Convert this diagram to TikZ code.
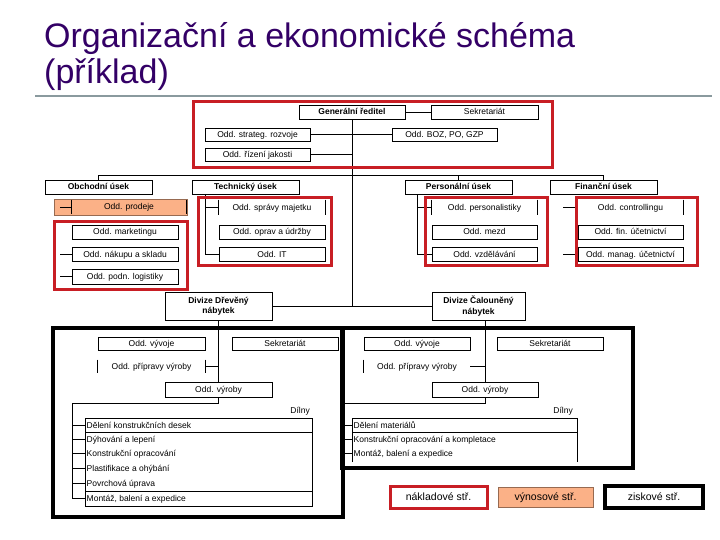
\documentclass[tikz,border=0pt]{standalone}
\usepackage{fontspec}
\setmainfont{Liberation Sans}
\usetikzlibrary{calc}
\definecolor{titlecol}{HTML}{330066}
\definecolor{redfr}{HTML}{C81E24}
\definecolor{orfill}{HTML}{FBB187}
\definecolor{rulecol}{HTML}{8A9A9E}
\tikzset{
 box/.style={draw, line width=0.7pt, fill=white, inner sep=0pt, font=\fontsize{8.5}{10}\selectfont, align=center, text height=7pt, text depth=1pt},
 divbox/.style={draw, line width=0.7pt, fill=white, inner sep=0pt, font=\fontsize{8.5}{10.5}\selectfont\bfseries, align=center},
 bbox/.style={font=\fontsize{8.5}{10}\selectfont\bfseries},
 bars/.style={draw=none, fill=none},
 wrow/.style={inner xsep=1.5pt, inner ysep=0pt, anchor=west, font=\fontsize{8.5}{10}\selectfont, minimum height=14pt, text height=7pt, text depth=1pt},
 conn/.style={line width=0.7pt},
 redframe/.style={draw=redfr, line width=3pt},
 profit/.style={draw=black, line width=3.5pt},
 lgtext/.style={font=\fontsize{10.5}{12}\selectfont, text height=8.5pt, text depth=1.5pt},
 ttl/.style={anchor=base west, text=titlecol, font=\fontsize{34}{38}\selectfont, inner sep=0pt},
}
\newcommand{\bx}[7][]{%
 \pgfmathsetmacro\bxX{(#3+#5)/2}\pgfmathsetmacro\bxY{(#4+#6)/2}%
 \pgfmathsetmacro\bxW{#5-#3}\pgfmathsetmacro\bxH{#6-#4}%
 \node[box,#1,minimum width=\bxW pt,minimum height=\bxH pt] (#2) at (\bxX,\bxY) {#7};}
\newcommand{\sidebars}[1]{\draw[conn] (#1.north west) -- (#1.south west) (#1.north east) -- (#1.south east);}
\begin{document}
\begin{tikzpicture}[x=1pt,y=-1pt]
\useasboundingbox (0,0) rectangle (720,540);
% title
\node[ttl] (t1) at (44,48) {Organizační a ekonomické schéma};
\node[ttl] (t2) at (44,84) {(příklad)};
\draw[rulecol, line width=1.2pt] (35,96) -- (712,96);
% profit frames
\draw[profit] (53,328) rectangle (343,517);
\draw[profit] (342,328) rectangle (633,468);
% top
\bx[bbox]{gr}{299}{105}{405}{119}{Generální ředitel}
\bx{sek}{431}{105}{538}{119}{Sekretariát}
\bx{str}{205}{128}{310}{141}{Odd. strateg. rozvoje}
\bx{boz}{392}{128}{497}{141}{Odd. BOZ, PO, GZP}
\bx{jak}{205}{148}{310}{161}{Odd. řízení jakosti}
% sections
\bx[bbox]{ob}{45}{180}{152}{194}{Obchodní úsek}
\bx[bbox]{te}{192}{180}{299}{194}{Technický úsek}
\bx[bbox]{pe}{405}{180}{512}{194}{Personální úsek}
\bx[bbox]{fi}{550}{180}{657}{194}{Finanční úsek}
% divisions
\node[divbox, minimum width=107pt, minimum height=28pt] (dr) at (218.5,306) {Divize Dřevěný\\nábytek};
\node[divbox, minimum width=93pt, minimum height=28pt] (ca) at (478.5,306) {Divize Čalouněný\\nábytek};
% trunk connectors
\draw[conn] (gr.south) -- (gr.south |- dr.east);
\draw[conn] (dr.east) -- (ca.west);
\draw[conn] (gr.east) -- (sek.west);
\draw[conn] (str.east) -- (str.east -| gr.south);
\draw[conn] (boz.west) -- (boz.west -| gr.south);
\draw[conn] (jak.east) -- (jak.east -| gr.south);
\coordinate (busL) at (98.5,175);
\draw[conn] (ob.north) -- (ob.north |- busL) -- (fi.north |- busL) -- (fi.north);
\draw[conn] (pe.north) -- (pe.north |- busL);
% Obchodni
\filldraw[fill=orfill, draw=orfill!60!black, line width=0.4pt] (54,199) rectangle (187,215);
\bx[bars]{prod}{72}{200}{186}{214}{Odd. prodeje}
\sidebars{prod}
\bx{mark}{72}{225}{178}{239}{Odd. marketingu}
\bx{nak}{72}{247}{178}{261}{Odd. nákupu a skladu}
\bx{log}{72}{269}{178}{284}{Odd. podn. logistiky}
\draw[conn] (prod.west) -- ++(-12,0);
\draw[conn] (nak.west) -- ++(-12,0);
\draw[conn] (log.west) -- ++(-12,0);
% Technicky
\bx[bars]{spr}{219}{200}{325}{215}{Odd. správy majetku}
\sidebars{spr}
\bx{opr}{219}{225}{325}{239}{Odd. oprav a údržby}
\bx{it}{219}{247}{325}{261}{Odd. IT}
\draw[conn] ($(te.south west)+(14,0)$) |- (it.west);
\draw[conn] ($(te.south west)+(14,0)$) |- (spr.west);
% Personalni
\bx[bars]{pers}{432}{200}{537}{215}{Odd. personalistiky}
\sidebars{pers}
\bx{mez}{432}{225}{537}{239}{Odd. mezd}
\bx{vzd}{432}{247}{537}{261}{Odd. vzdělávání}
\draw[conn] ($(pe.south west)+(13,0)$) |- (vzd.west);
\draw[conn] ($(pe.south west)+(13,0)$) |- (pers.west);
% Financni
\bx[bars]{ctrl}{578}{200}{683}{215}{Odd. controllingu}
\sidebars{ctrl}
\bx{uc}{578}{225}{683}{239}{Odd. fin. účetnictví}
\bx{man}{578}{247}{683}{261}{Odd. manag. účetnictví}
\draw[conn] (ctrl.west) -- ++(-15,0);
\draw[conn] (man.west) -- ++(-15,0);
% red frames
\draw[redframe] (193,102) rectangle (552,168);
\draw[redframe] (54,222) rectangle (187,289);
\draw[redframe] (198,198) rectangle (331,265);
\draw[redframe] (425,198) rectangle (547,265);
\draw[redframe] (576,198) rectangle (697,265);
% left division
\bx{lvyv}{98}{337}{205}{350}{Odd. vývoje}
\bx{lsek}{232}{337}{338}{350}{Sekretariát}
\bx[bars]{lpri}{98}{360}{205}{373}{Odd. přípravy výroby}
\sidebars{lpri}
\bx{lvyr}{165}{382}{272}{397}{Odd. výroby}
\draw[conn] (dr.south) -- (lvyr.north);
\draw[conn] (lpri.east) -- (lpri.east -| lvyr.north);
\node[anchor=east, inner sep=0pt, font=\fontsize{8.5}{10}\selectfont] (ldil) at (310,411) {Dílny};
\draw[conn] (85,418) rectangle (312,506);
\draw[conn] (85,432) -- (312,432);
\draw[conn] (85,491) -- (312,491);
\node[wrow] (lw1) at (85,425) {Dělení konstrukčních desek};
\node[wrow] (lw2) at (85,439) {Dýhování a lepení};
\node[wrow] (lw3) at (85,453.5) {Konstrukční opracování};
\node[wrow] (lw4) at (85,468.5) {Plastifikace a ohýbání};
\node[wrow] (lw5) at (85,483.5) {Povrchová úprava};
\node[wrow] (lw6) at (85,498.5) {Montáž, balení a expedice};
\coordinate (lj) at (72,403);
\draw[conn] (lvyr.south) -- (lvyr.south |- lj) -- (lj) -- (lj |- lw6.west);
\foreach \r in {lw1,lw2,lw3,lw4,lw5,lw6} \draw[conn] (\r.west) -- (\r.west -| lj);
% right division
\bx{rvyv}{364}{337}{470}{350}{Odd. vývoje}
\bx{rsek}{497}{337}{603}{350}{Sekretariát}
\bx[bars]{rpri}{364}{360}{470}{373}{Odd. přípravy výroby}
\draw[conn] (rpri.north west) -- (rpri.south west);
\bx{rvyr}{432}{382}{538}{397}{Odd. výroby}
\draw[conn] (ca.south -| rvyr.north) -- (rvyr.north);
\draw[conn] (rpri.east) -- (rpri.east -| rvyr.north);
\node[anchor=east, inner sep=0pt, font=\fontsize{8.5}{10}\selectfont] (rdil) at (573,411) {Dílny};
\draw[conn] (352,462) -- (352,418) -- (577,418) -- (577,462);
\draw[conn] (352,432) -- (577,432);
\node[wrow] (rw1) at (352,425) {Dělení materiálů};
\node[wrow] (rw2) at (352,439) {Konstrukční opracování a kompletace};
\node[wrow] (rw3) at (352,453) {Montáž, balení a expedice};
\coordinate (rj) at (343,403);
\draw[conn] (rvyr.south) -- (rvyr.south |- rj) -- (rj) -- (rj |- rw3.west);
\foreach \r in {rw1,rw2,rw3} \draw[conn] (\r.west) -- (\r.west -| rj);
% legend
\bx[lgtext, draw=redfr, line width=3pt]{lg1}{390}{486}{487}{508}{nákladové stř.}
\bx[lgtext, fill=orfill, draw=orfill!60!black, line width=0.5pt]{lg2}{498}{487}{593}{507}{výnosové stř.}
\bx[lgtext, line width=3.5pt]{lg3}{605}{486}{703}{508}{ziskové stř.}
\end{tikzpicture}
\end{document}
